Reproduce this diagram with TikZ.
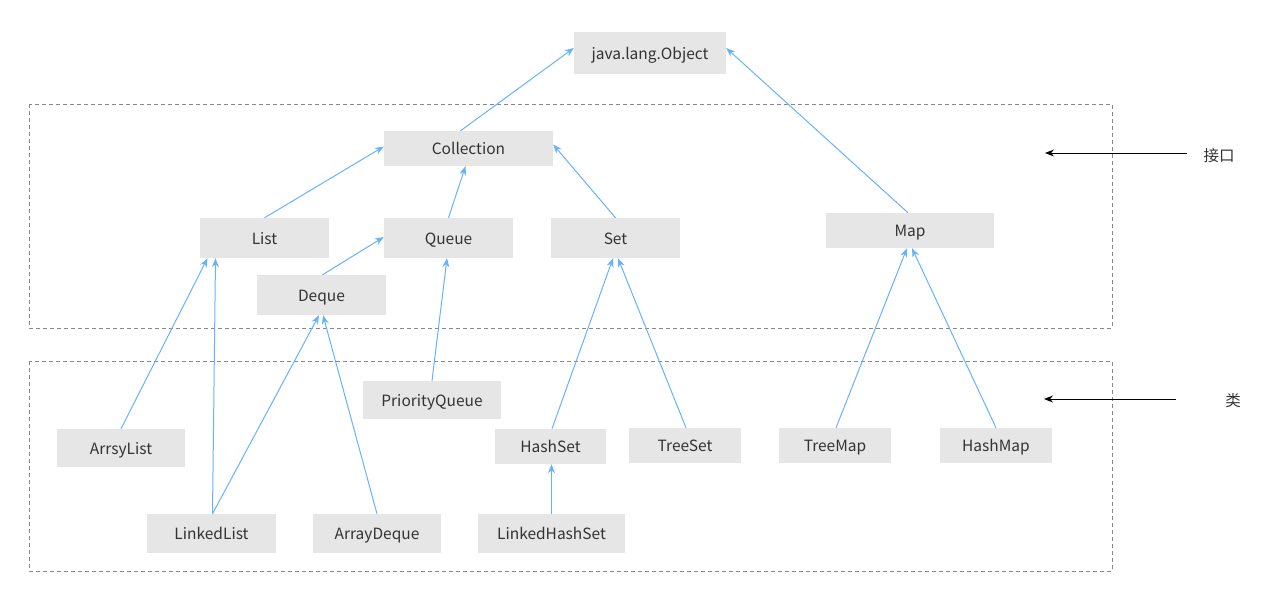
\documentclass[tikz,border=0pt]{standalone}
\usepackage{fontspec}
\setmainfont{Noto Sans CJK SC}
\usetikzlibrary{arrows.meta}
\definecolor{boxfill}{HTML}{E6E6E6}
\definecolor{txt}{HTML}{333333}
\definecolor{arr}{HTML}{66B2FF}
\definecolor{dash}{HTML}{888888}
\tikzset{
  cls/.style={fill=boxfill, draw=none, text=txt, inner sep=0pt, text height=14.5pt, text depth=2pt, font=\fontsize{15.5}{18}\selectfont},
  inh/.style={draw=arr, line width=1pt, -{Stealth[length=9pt,width=7pt]}},
  grp/.style={draw=dash, dashed, line width=0.9pt, dash pattern=on 4pt off 3pt},
  lab/.style={text=txt, font=\fontsize{15.5}{18}\selectfont},
  marker/.style={draw=black, line width=1pt, -{Stealth[length=9pt,width=7pt]}}
}
\begin{document}
\begin{tikzpicture}[x=1pt,y=-1pt]
\useasboundingbox (0,0) rectangle (1288,595);
\draw[grp] (29,104) rectangle (1112,328);
\draw[grp] (29,361) rectangle (1112,571);
% nodes: centre, width, height
\node[cls, minimum width=152pt, minimum height=42pt] (obj) at (650,53) {java.lang.Object};
\node[cls, minimum width=169pt, minimum height=35pt] (coll) at (468.5,148.5) {Collection};
\node[cls, minimum width=129pt, minimum height=40pt] (list) at (264.5,238) {List};
\node[cls, minimum width=129pt, minimum height=40pt] (queue) at (448.5,238) {Queue};
\node[cls, minimum width=129pt, minimum height=40pt] (set) at (615.5,238) {Set};
\node[cls, minimum width=168pt, minimum height=35pt] (map) at (910,230.5) {Map};
\node[cls, minimum width=129pt, minimum height=40pt] (deque) at (321.5,295) {Deque};
\node[cls, minimum width=138pt, minimum height=38pt] (pq) at (432,400) {PriorityQueue};
\node[cls, minimum width=128pt, minimum height=38pt] (alist) at (121,448) {ArrsyList};
\node[cls, minimum width=111pt, minimum height=35pt] (hset) at (550.5,446.5) {HashSet};
\node[cls, minimum width=112pt, minimum height=35pt] (tset) at (685,445.5) {TreeSet};
\node[cls, minimum width=112pt, minimum height=35pt] (tmap) at (835,445.5) {TreeMap};
\node[cls, minimum width=112pt, minimum height=35pt] (hmap) at (996,445.5) {HashMap};
\node[cls, minimum width=129pt, minimum height=39pt] (llist) at (211.5,533.5) {LinkedList};
\node[cls, minimum width=128pt, minimum height=39pt] (adeque) at (377,533.5) {ArrayDeque};
\node[cls, minimum width=147pt, minimum height=39pt] (lhset) at (551.5,533.5) {LinkedHashSet};
% inheritance arrows
\draw[inh] ([xshift=-8pt]coll.north) -- ([yshift=5pt]obj.west);
\draw[inh] ([xshift=-2pt]map.north) -- ([yshift=5pt]obj.east);
\draw[inh] (list.north) -- ([yshift=2pt]coll.west);
\draw[inh] (queue.north) -- ([xshift=-3pt]coll.south);
\draw[inh] (set.north) -- ([yshift=4pt]coll.east);
\draw[inh] ([xshift=1pt]deque.north) -- ([yshift=1pt]queue.west);
\draw[inh] (alist.north) -- ([xshift=-57pt]list.south);
\draw[inh] ([xshift=1pt]llist.north) -- ([xshift=-49pt]list.south);
\draw[inh] ([xshift=1pt]llist.north) -- ([xshift=-2.5pt]deque.south);
\draw[inh] (adeque.north) -- ([xshift=1.5pt]deque.south);
\draw[inh] (pq.north) -- ([xshift=-1.5pt]queue.south);
\draw[inh] ([xshift=1.5pt]hset.north) -- ([xshift=-2.5pt]set.south);
\draw[inh] ([xshift=1pt]tset.north) -- ([xshift=2.5pt]set.south);
\draw[inh] ([xshift=1pt]tmap.north) -- ([xshift=-3pt]map.south);
\draw[inh] (hmap.north) -- ([xshift=2pt]map.south);
\draw[inh] (lhset.north) -- ([xshift=1pt]hset.south);
% legend
\node[lab] (ifc) at (1219,156) {接口};
\node[lab] (cl) at (1233,401) {类};
\coordinate (ifcA) at (1187,153);
\coordinate (ifcB) at (1045,153);
\coordinate (clA) at (1176,399);
\coordinate (clB) at (1044,399);
\draw[marker] (ifcA) -- (ifcB);
\draw[marker] (clA) -- (clB);
\end{tikzpicture}
\end{document}
